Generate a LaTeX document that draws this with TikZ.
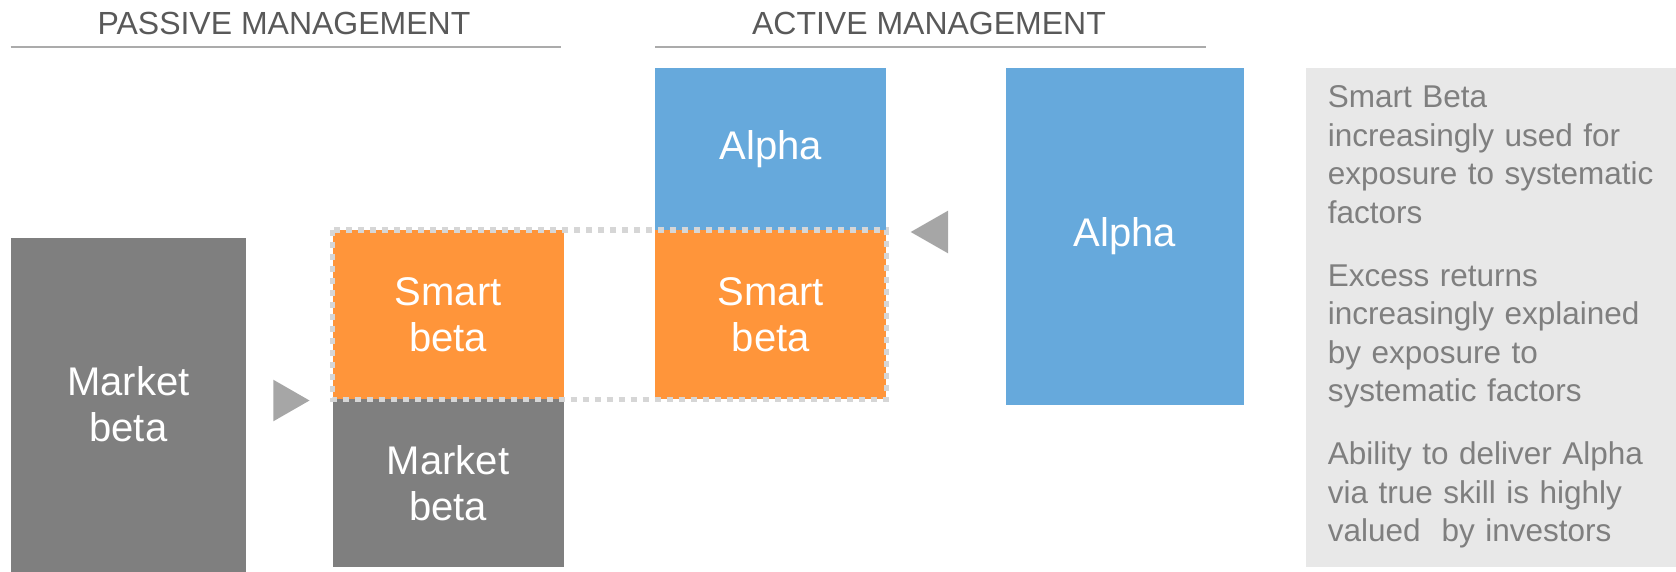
\documentclass[tikz,border=0pt]{standalone}
\usepackage{fontspec}
\setmainfont{Liberation Sans}
\usetikzlibrary{positioning}
\definecolor{mktgray}{HTML}{7F7F7F}
\definecolor{smartorange}{HTML}{FF953A}
\definecolor{alphablue}{HTML}{66A9DC}
\definecolor{notegray}{HTML}{E8E8E8}
\definecolor{notetext}{HTML}{7F7F7F}
\definecolor{rulegray}{HTML}{ABABAB}
\definecolor{headgray}{HTML}{595959}
\definecolor{dotgray}{HTML}{D6D6D6}
\definecolor{trigray}{HTML}{A6A6A6}
\tikzset{
  block/.style={anchor=north west, inner sep=0pt, text=white, align=center,
    minimum width=231pt, font=\fontsize{40}{46}\selectfont},
  header/.style={text=headgray, inner sep=0pt, font=\fontsize{32}{36}\selectfont},
  headrule/.style={draw=rulegray, line width=2.5pt},
  dotbox/.style={draw=dotgray, line width=5.5pt, dash pattern=on 6pt off 6pt},
  tri/.style={fill=trigray},
}

\begin{document}
\begin{tikzpicture}[x=1pt,y=-1pt]
    \useasboundingbox (0,0) rectangle (1676,571);

    % headings
    \node[header] (passive) at (284, 23.5) {PASSIVE MANAGEMENT};
    \node[header] (active)  at (929, 23.5) {ACTIVE MANAGEMENT};
    \coordinate (pl) at (10.7, 47);
    \coordinate (pr) at (561, 47);
    \coordinate (al) at (655, 47);
    \coordinate (ar) at (1205.7, 47);
    \draw[headrule] (pl) -- (pr);
    \draw[headrule] (al) -- (ar);

    % passive
    \node[block, fill=mktgray, minimum width=235pt, minimum height=334pt] (mktbig) at (10.7, 237.3) {Market\\beta};
    \node[block, fill=smartorange, minimum height=169pt] (smartL) at (332.4, 229.8) {Smart\\beta};
    \node[block, fill=mktgray, minimum height=168pt, below=0pt of smartL] (mktL) {Market\\beta};

    % active
    \node[block, fill=alphablue, minimum height=162.5pt] (alphaT) at (655, 67.3) {Alpha};
    \node[block, fill=smartorange, minimum height=169pt, below=0pt of alphaT] (smartR) {Smart\\beta};
    \node[block, fill=alphablue, minimum width=238pt, minimum height=337pt] (alphaB) at (1005.8, 67.3) {Alpha};

    \draw[dotbox] (smartL.north west) rectangle (smartR.south east);

    % arrows
    \coordinate (tipA) at (309.5, 400.5);
    \coordinate (tipB) at (910.7, 232);
    \fill[tri] (tipA) -- ++(-36.2, -20.8) -- ++(0, 41.6) -- cycle;
    \fill[tri] (tipB) -- ++(37.3, -21.3) -- ++(0, 42.6) -- cycle;

    % notes
    \node[fill=notegray, anchor=north west, minimum width=370pt, minimum height=499pt, inner sep=0pt] (panel) at (1306, 67.3) {};
    \node[anchor=north west, inner sep=0pt, text=notetext, text width=340pt, align=left,
          font=\fontsize{31.5}{38.5}\selectfont] (notes) at (1327.6, 85.5)
        {Smart Beta\\increasingly used for\\exposure to systematic\\factors\\[24.5pt]
         Excess returns\\increasingly explained\\by exposure to\\systematic factors\\[24.5pt]
         Ability to deliver Alpha\\via true skill is highly\\valued\ \ by investors};
\end{tikzpicture}
\end{document}
